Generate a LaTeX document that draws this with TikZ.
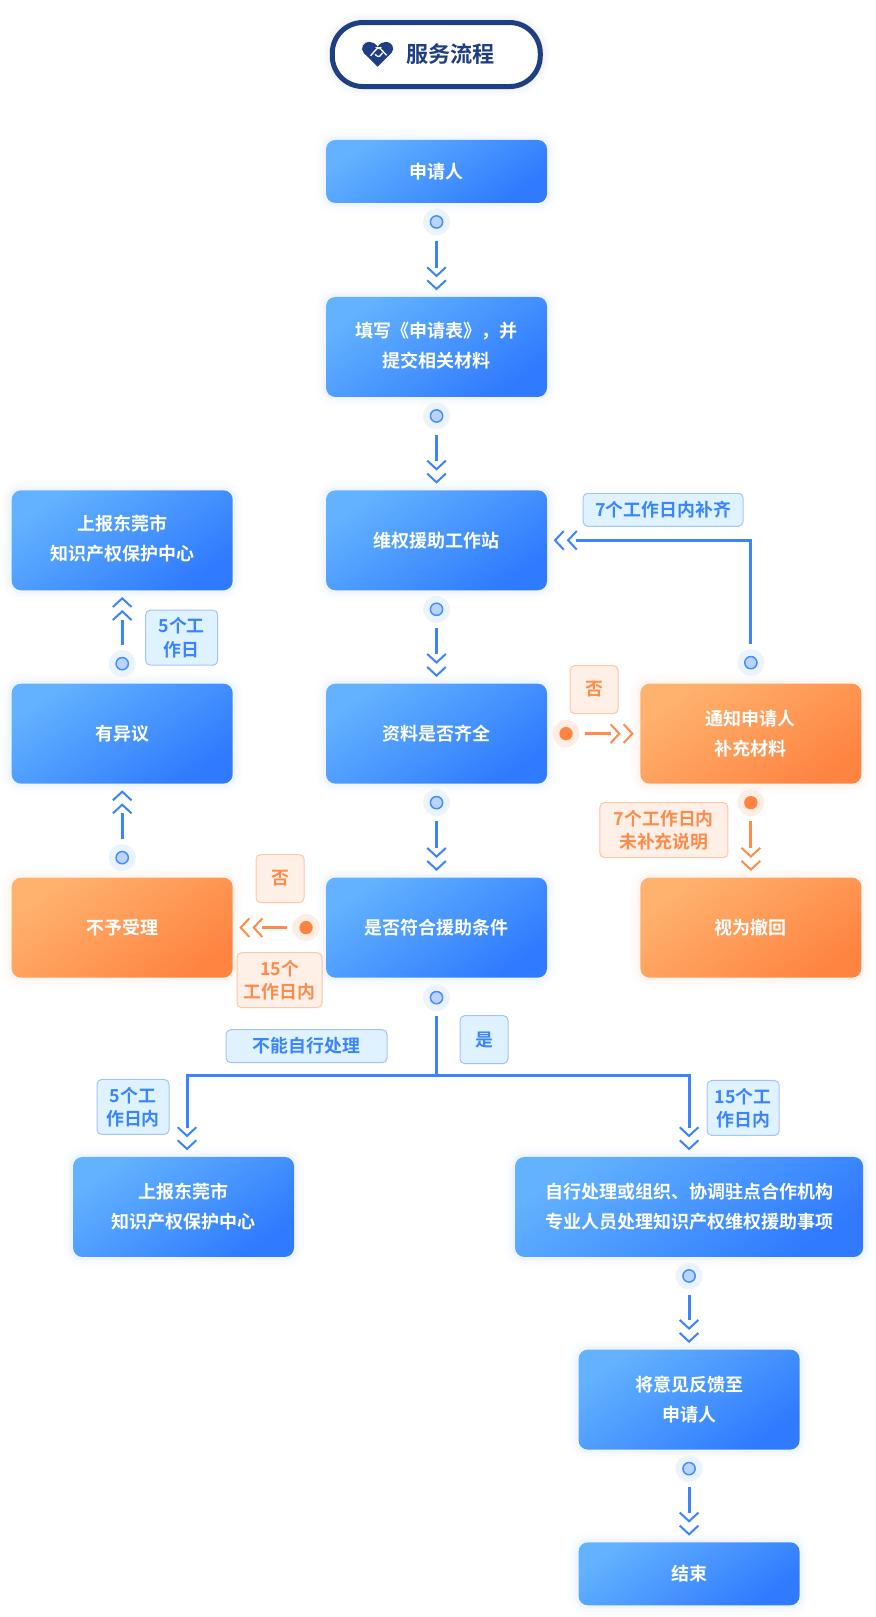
\documentclass[tikz,border=0pt]{standalone}
\usepackage{fontspec}
\setmainfont{Noto Sans CJK SC}[BoldFont={Noto Sans CJK SC Bold}]
\usetikzlibrary{arrows.meta, positioning, calc}
\definecolor{navy}{HTML}{1F3F85}
\definecolor{blueA}{HTML}{62B2FF}
\definecolor{blueB}{HTML}{2F7AFF}
\definecolor{orangeA}{HTML}{FFB26E}
\definecolor{orangeB}{HTML}{FF8442}
\definecolor{lineblue}{HTML}{3A84FF}
\definecolor{lineorange}{HTML}{FF8B4A}
\tikzset{
  glow/.style   = {preaction={draw=#1, line width=15pt, draw opacity=.015},
                   preaction={draw=#1, line width=10pt, draw opacity=.025},
                   preaction={draw=#1, line width=5pt, draw opacity=.04}},
  box/.style    = {rectangle, rounded corners=7pt, align=center, text=white,
                   font=\bfseries\fontsize{13.5}{22.5}\selectfont,
                   minimum width=165.75pt, minimum height=75pt,
                   inner sep=0pt, outer sep=0pt},
  bbox/.style   = {box, glow=lineblue, top color=blueA, bottom color=blueB, shading angle=35},
  obox/.style   = {box, glow=lineorange, top color=orangeA, bottom color=orangeB, shading angle=35},
  tall/.style   = {text depth=3.7pt},
  tag/.style    = {rectangle, rounded corners=3.5pt, align=center, line width=.75pt,
                   font=\bfseries\fontsize{13.4}{17.5}\selectfont,
                   inner sep=0pt, outer sep=0pt},
  btag/.style   = {tag, draw=blue!70!cyan!35, fill=blue!35!cyan!13, text=lineblue},
  otag/.style   = {tag, draw=lineorange!50, fill=lineorange!13, text=lineorange},
  bdot/.style   = {circle, fill=lineblue!10, minimum size=20.25pt, inner sep=0pt, outer sep=0pt,
                   path picture={\fill[lineblue!35, draw=lineblue!80!blueA, line width=1.1pt]
                     (path picture bounding box.center) circle (4.6pt);}},
  odot/.style   = {circle, fill=lineorange!16, minimum size=20.25pt, inner sep=0pt, outer sep=0pt,
                   path picture={\fill[orangeB]
                     (path picture bounding box.center) circle (5pt);}},
  wire/.style   = {line width=2.25pt, shorten <=4pt},
  dbl/.style    = {-{Straight Barb[length=.01pt, width=.01pt, line width=.01pt, sep=-1pt] .
                     Straight Barb[length=6.5pt, width=14pt, line width=1.5pt, sep=1.5pt]
                     Straight Barb[length=6.5pt, width=14pt, line width=1.5pt]}},
  arr/.style    = {wire, dbl, shorten >=5pt},
  node distance = 70pt and 70pt
}

\begin{document}
\begin{tikzpicture}
  \useasboundingbox (0,0) rectangle (656.25pt,-1212.75pt);

  % title
  \node[draw=navy, line width=3.75pt, fill=white, rounded corners=23pt, minimum width=156pt,
        minimum height=48pt, inner sep=0pt, text=navy, glow=navy,
        font=\bfseries\fontsize{16.6}{16.6}\selectfont] (title) at (327.2pt,-40.9pt)
        {\hspace*{21pt}服务流程};
  \begin{scope}[shift={($(title.center)+(-44pt,0.2pt)$)}, x=.75pt, y=-.75pt]
    \fill[navy] (0,12.5) -- (-13.8,-1.2) .. controls (-18,-6) and (-14,-12.5) .. (-8.5,-12.5)
      .. controls (-5,-12.5) and (-2,-10.5) .. (0,-7.5)
      .. controls (2,-10.5) and (5,-12.5) .. (8.5,-12.5)
      .. controls (14,-12.5) and (18,-6) .. (13.8,-1.2) -- cycle;
    \draw[white, line width=1pt, rounded corners=1.2pt] (-7,1.5) -- (0,-6.5) -- (2,-6.5) -- (9,1);
    \draw[white, line width=1pt, rounded corners=1.2pt] (-2.5,0) -- (1,3.2) -- (5,-1.5);
  \end{scope}

  % centre column
  \node[bbox, minimum height=47.25pt] (apply) at (327.4pt,-128.6pt) {申请人};
  \node[bbox, tall, below=70.5pt of apply]  (form)  {填写《申请表》，并\\提交相关材料};
  \node[bbox, below=70pt of form]     (stat)  {维权援助工作站};
  \node[bbox, below=70pt of stat]     (check) {资料是否齐全};
  \node[bbox, below=70.5pt of check]  (cond)  {是否符合援助条件};

  % left column
  \node[obox, left=of cond]           (deny)  {不予受理};
  \node[bbox, left=of check]          (dissent) {有异议};
  \node[bbox, tall, left=of stat]     (center) {上报东莞市\\知识产权保护中心};

  % right column
  \node[obox, right=of check]         (notify) {通知申请人\\补充材料};
  \node[obox, right=of cond]          (recall) {视为撤回};

  % lower branch
  \node[bbox, below=134.5pt of cond, xshift=-189.75pt] (report) {上报东莞市\\知识产权保护中心};
  \node[bbox, below=134.5pt of cond, xshift=189.4pt, minimum width=261pt] (handle)
        {自行处理或组织、协调驻点合作机构\\专业人员处理知识产权维权援助事项};
  \node[bbox, below=69.5pt of handle] (reply) {将意见反馈至\\申请人};
  \node[bbox, below=69.5pt of reply, minimum height=47.25pt] (finish) {结束};

  % dots
  \node[bdot, below=14.25pt of apply.south, anchor=center]  (dapply) {};
  \node[bdot, below=14.25pt of form.south, anchor=center]   (dform)  {};
  \node[bdot, below=14.25pt of stat.south, anchor=center]   (dstat)  {};
  \node[bdot, below=14.25pt of check.south, anchor=center]  (dcheck) {};
  \node[bdot, below=15pt of cond.south, anchor=center]      (dcond)  {};
  \node[bdot, below=14.25pt of handle.south, anchor=center] (dhandle) {};
  \node[bdot, below=14.25pt of reply.south, anchor=center]  (dreply) {};
  \node[bdot, above=15pt of deny.north, anchor=center]      (ddeny)  {};
  \node[bdot, above=15pt of dissent.north, anchor=center]   (ddissent) {};
  \node[bdot, above=15.75pt of notify.north, anchor=center] (dnotify) {};
  \node[odot, below=14.25pt of notify.south, anchor=center] (dnotifyo) {};
  \node[odot, right=14.25pt of check.east, anchor=center]   (dcheckr) {};
  \node[odot, left=15pt of cond.west, anchor=center]        (dcondl) {};

  % tags
  \node[btag, minimum width=120pt, minimum height=24.75pt] at ($(stat.center)+(169.9pt,22.9pt)$) (t1) {7个工作日内补齐};
  \node[otag, minimum size=36pt] at ($(dcheckr)+(21pt,33pt)$)      (t2) {否};
  \node[otag, minimum width=96pt, minimum height=41.25pt] at ($(dnotifyo)+(-65.25pt,-20.6pt)$) (t3) {7个工作日内\\未补充说明};
  \node[otag, minimum size=36pt] at ($(dcondl)+(-19.5pt,36.75pt)$) (t4) {否};
  \node[otag, minimum width=63.75pt, minimum height=41.25pt] at ($(dcondl)+(-19.9pt,-39.4pt)$) (t5) {15个\\工作日内};
  \node[btag, minimum size=36pt] at ($(dcond)+(35.6pt,-31.5pt)$)   (t6) {是};
  \node[btag, minimum width=120.75pt, minimum height=24.75pt] at ($(dcond)+(-97.5pt,-36.4pt)$) (t7) {不能自行处理};
  \node[btag, minimum width=54pt, minimum height=41.25pt] at ($(report.center)+(-37.9pt,75pt)$) (t8) {5个工\\作日内};
  \node[btag, minimum width=54pt, minimum height=41.25pt] at ($(handle.center)+(40.5pt,74.25pt)$) (t9) {15个工\\作日内};
  \node[btag, minimum width=54pt, minimum height=41.25pt] at ($(dissent.center)+(44.6pt,72pt)$) (t10) {5个工\\作日};

  % connectors
  \foreach \a/\b in {dapply/form, dform/stat, dstat/check, dcheck/cond, dhandle/reply, dreply/finish, ddeny/dissent, ddissent/center}
    \draw[arr, lineblue] (\a) -- (\b);
  \draw[arr, lineblue] (dnotify) |- (stat);
  \draw[arr, lineorange] (dcheckr) -- (notify);
  \draw[arr, lineorange] (dnotifyo) -- (recall);
  \draw[arr, lineorange] (dcondl) -- (deny);

  % branch below the last check
  \coordinate (fork) at ($(dcond)+(0,-58.5pt)$);
  \draw[wire, lineblue] (dcond) -- (fork);
  \draw[arr, lineblue, shorten <=0pt] (fork) -| ([xshift=2.6pt]report.north);
  \draw[arr, lineblue, shorten <=0pt] (fork) -| (handle);

\end{tikzpicture}
\end{document}
